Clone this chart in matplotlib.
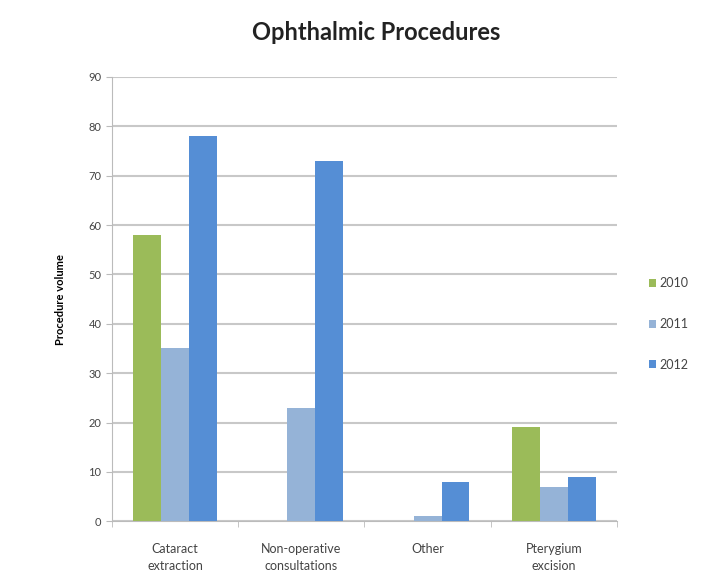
import matplotlib.pyplot as plt
import numpy as np

categories = ["Cataract\nextraction", "Non-operative\nconsultations", "Other", "Pterygium\nexcision"]
years = ["2010", "2011", "2012"]
vol_2010 = [58, 0, 0, 19]
vol_2011 = [35, 23, 1, 7]
vol_2012 = [78, 73, 8, 9]

colors = ["#9BBB59", "#95B3D7", "#558ED5"]

plt.rcParams["font.family"] = ["Lato", "DejaVu Sans"]

fig = plt.figure(figsize=(7.26, 5.87), dpi=100)
ax = fig.add_axes([0.154, 0.112, 0.696, 0.757])

x = np.arange(len(categories))
w = 0.22
for i, (vals, lab, c) in enumerate(zip([vol_2010, vol_2011, vol_2012], years, colors)):
    ax.bar(x + (i - 1) * w, vals, width=w, color=c, label=lab, zorder=3)

ax.set_xlim(-0.5, len(categories) - 0.5)
ax.set_ylim(0, 90)
ax.set_yticks(range(0, 91, 10))
ax.set_xticks(x)
ax.set_xticklabels(categories, fontsize=9, color="#444444", linespacing=1.5)
ax.tick_params(axis="y", labelsize=8, colors="#444444", length=4, color="#bbbbbb")
ax.tick_params(axis="x", length=0, pad=16)
# small ticks between the category groups
ax.set_xticks(np.arange(-0.5, len(categories), 1), minor=True)
ax.tick_params(axis="x", which="minor", length=4, color="#bbbbbb")

ax.grid(axis="y", color="#c8c8c8", linewidth=1.5, zorder=0)
for s in ["top", "right"]:
    ax.spines[s].set_visible(False)
ax.spines["left"].set_color("#bbbbbb")
ax.spines["bottom"].set_color("#bbbbbb")

ax.set_ylabel("Procedure volume", fontsize=8, fontweight="bold", labelpad=16)
fig.suptitle("Ophthalmic Procedures", fontsize=17, fontweight="bold", x=0.518, y=0.965, color="#222222")

ax.legend(loc="center left", bbox_to_anchor=(1.04, 0.444), frameon=False,
          fontsize=9, handlelength=0.6, handleheight=0.6, labelspacing=2.3,
          handletextpad=0.3, labelcolor="#444444")

fig.savefig("out.png", dpi=100)
